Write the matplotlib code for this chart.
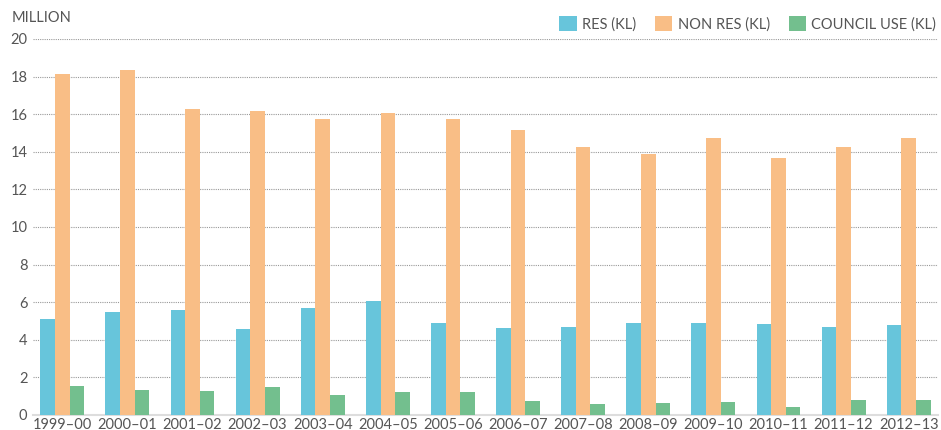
import numpy as np
import matplotlib.pyplot as plt

plt.rcParams['font.family'] = ['Lato', 'DejaVu Sans']

years = ['1999–00', '2000–01', '2001–02', '2002–03', '2003–04', '2004–05', '2005–06',
         '2006–07', '2007–08', '2008–09', '2009–10', '2010–11', '2011–12', '2012–13']
res = [5.09, 5.48, 5.60, 4.57, 5.69, 6.05, 4.88, 4.61, 4.66, 4.88, 4.88, 4.82, 4.70, 4.77]
non_res = [18.14, 18.35, 16.28, 16.17, 15.74, 16.06, 15.74, 15.16, 14.24, 13.88, 14.73, 13.66, 14.28, 14.73]
council = [1.54, 1.31, 1.26, 1.51, 1.06, 1.24, 1.23, 0.76, 0.57, 0.66, 0.71, 0.44, 0.80, 0.81]

txt = '#555555'
fig = plt.figure(figsize=(9.41, 4.30), dpi=100)
ax = fig.add_axes([33/941, 15/430, 905/941, 376/430])

x = np.arange(len(years))
w = 0.225
ax.bar(x - w, res, w, color='#67C5DB', label='RES (KL)', zorder=3)
ax.bar(x, non_res, w, color='#F9BE86', label='NON RES (KL)', zorder=3)
ax.bar(x + w, council, w, color='#73BF8E', label='COUNCIL USE (KL)', zorder=3)

ax.set_xlim(-0.45, 13.45)
ax.set_ylim(0, 20)
ax.set_yticks(range(0, 21, 2))
ax.set_xticks(x)
ax.set_xticklabels(years)
ax.tick_params(axis='both', length=0, colors=txt, labelsize=10.5)
ax.tick_params(axis='x', pad=2)
ax.tick_params(axis='y', pad=4)
ax.yaxis.grid(True, linestyle=(0, (1, 1)), color='#999999', linewidth=0.8, zorder=0)
for s in ['top', 'right', 'left']:
    ax.spines[s].set_visible(False)
ax.spines['bottom'].set_color('#dddddd')
ax.spines['bottom'].set_linewidth(1.5)

fig.text(12/941, 1 - 18/430, 'MILLION', color=txt, fontsize=10.5, va='center', ha='left')

ax.legend(loc='lower right', bbox_to_anchor=(1.006, 1.0), ncol=3, frameon=False,
          handlelength=1.2, handleheight=1.2, handletextpad=0.35, columnspacing=1.3,
          borderaxespad=0.2, borderpad=0.3, labelcolor=txt, fontsize=10.5)

fig.savefig('out.png', dpi=100)
